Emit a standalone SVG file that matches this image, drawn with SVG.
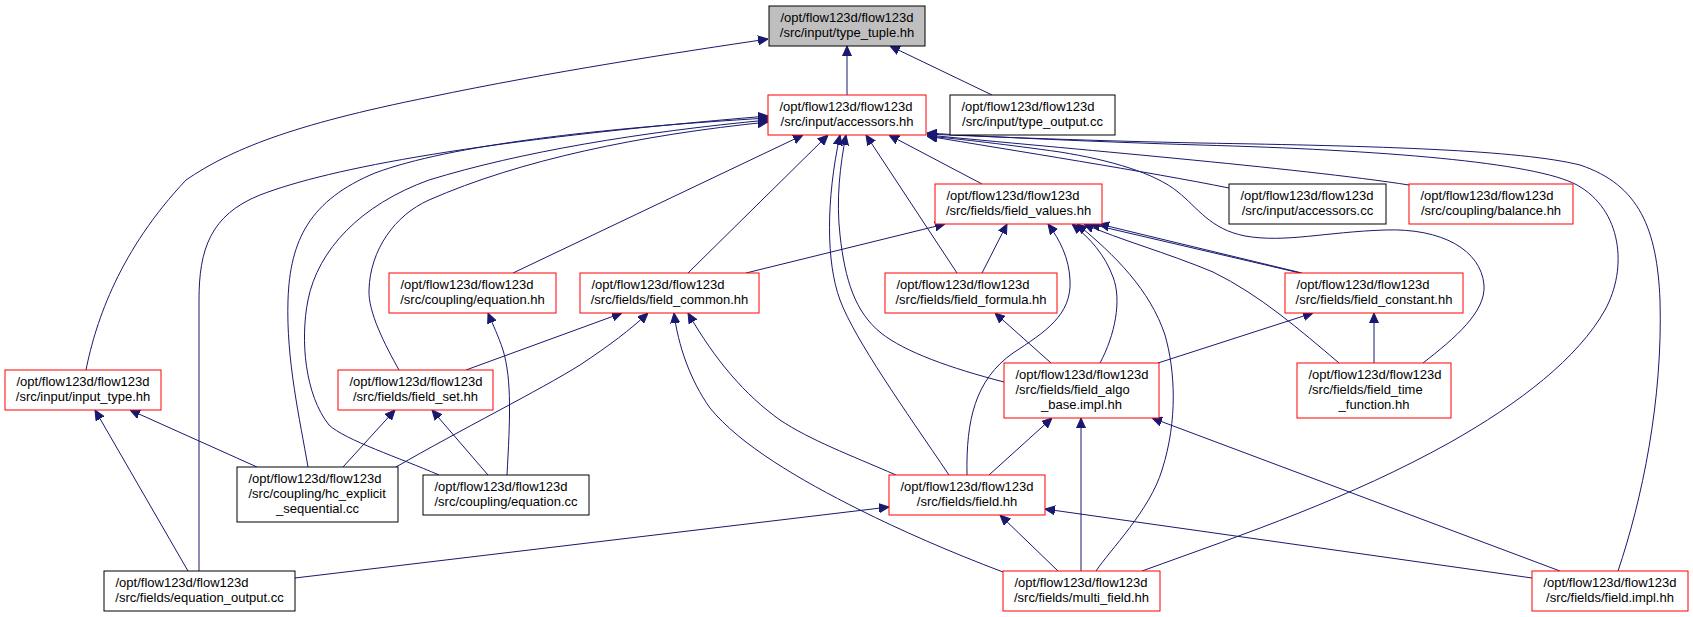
<svg xmlns="http://www.w3.org/2000/svg" width="1693" height="617" viewBox="0 0 1693 617">
<style>
.n rect{fill:#fff;stroke:#ff0000;stroke-width:1}
.b rect{stroke:#000}
.g rect{fill:#bfbfbf;stroke:#000}
text{font-family:"Liberation Sans",Arial,Helvetica,sans-serif;font-size:13px;fill:#000}
.m{text-anchor:middle}
#edges path{fill:none;stroke:#191970;stroke-width:1;marker-end:url(#ah)}
</style>
<defs>
<marker id="ah" viewBox="0 0 10 10" refX="10" refY="5" markerWidth="10" markerHeight="10" orient="auto" markerUnits="userSpaceOnUse">
<path d="M0,0.5 L10,5 L0,9.5 z" fill="#191970" stroke="#191970" stroke-width="1"/>
</marker>
</defs>
<rect width="1693" height="617" fill="#fff"/>
<g id="edges">
<path d="M86,370 C96,320 120,250 186,180 C230,150 290,125 430,97 C550,72 680,52 768,39"/>
<path d="M847,95 L847,46"/>
<path d="M992,95 L890,46"/>
<path d="M199,571 L199,300 C199,250 210,215 260,195 C330,168 480,140 768,116"/>
<path d="M308,467 C300,420 286,360 288,300 C290,240 310,200 375,173 C450,145 600,128 768,118"/>
<path d="M439,475 C400,458 345,440 329,425 C305,395 300,340 308,300 C318,250 360,205 429,180 C520,152 640,132 768,120"/>
<path d="M399,370 C385,345 368,312 369,290 C370,250 395,215 429,200 C520,160 640,135 768,122"/>
<path d="M513,273 L803,135"/>
<path d="M688,273 L828,135"/>
<path d="M949,475 C905,410 855,340 840,300 C826,262 826,200 840,135"/>
<path d="M1004,382 C950,368 905,352 881,333 C855,312 845,280 840,235 C836,200 840,165 846,135"/>
<path d="M957,273 L866,135"/>
<path d="M982,184 L889,135"/>
<path d="M1229,188 C1150,172 1010,150 927,136"/>
<path d="M1409,185 C1300,168 1060,148 927,135"/>
<path d="M1423,363 C1455,338 1486,312 1484,285 C1481,250 1442,228 1385,230 C1325,232 1285,243 1245,236 C1210,229 1198,208 1178,192 C1155,173 1110,160 1060,152 C1010,145 960,139 927,136"/>
<path d="M1142,571 C1250,532 1350,498 1449,443 C1520,403 1578,358 1605,310 C1628,268 1622,210 1577,185 C1535,162 1380,150 1200,145 C1100,142 990,137 927,133"/>
<path d="M1618,571 C1642,500 1663,400 1660,300 C1657,230 1640,185 1580,165 C1520,150 1380,146 1200,143 C1100,141 990,137 927,134"/>
<path d="M746,273 L945,224"/>
<path d="M982,273 L1007,224"/>
<path d="M967,475 C966,420 975,380 1013,353 C1045,332 1072,315 1070,280 C1069,258 1060,240 1048,224"/>
<path d="M1100,363 C1115,335 1122,300 1113,277 C1105,255 1090,238 1072,224"/>
<path d="M1096,571 C1110,550 1150,510 1162,470 C1178,420 1175,370 1165,335 C1150,290 1115,255 1077,224"/>
<path d="M1339,363 C1300,330 1260,295 1213,272 C1165,252 1120,240 1084,224"/>
<path d="M1300,273 L1090,224"/>
<path d="M1302,273 L1099,224"/>
<path d="M466,370 L622,313"/>
<path d="M396,467 C460,430 540,390 580,365 C610,345 630,330 648,313"/>
<path d="M1003,572 C950,552 900,530 860,510 C800,480 740,445 710,408 C690,380 678,345 674,313"/>
<path d="M896,475 C850,455 810,440 780,420 C745,395 715,360 688,313"/>
<path d="M507,475 C510,420 512,380 503,350 C498,335 493,325 488,313"/>
<path d="M343,467 L395,410"/>
<path d="M488,475 L432,410"/>
<path d="M188,571 L95,410"/>
<path d="M257,467 L130,410"/>
<path d="M1051,363 L995,313"/>
<path d="M1158,363 L1313,313"/>
<path d="M1374,363 L1374,313"/>
<path d="M989,475 L1052,418"/>
<path d="M1081,571 L1081,418"/>
<path d="M1560,571 L1152,418"/>
<path d="M295,578 L889,507"/>
<path d="M1058,571 L1000,515"/>
<path d="M1532,578 L1045,509"/>
</g>
<g id="node-type_tuple" class="n g"><rect x="769" y="6" width="156" height="40"/><text x="780.5" y="21.5">/opt/flow123d/flow123d</text><text class="m" x="847" y="36.5">/src/input/type_tuple.hh</text></g>
<g id="node-accessors_hh" class="n"><rect x="768" y="95" width="158" height="40"/><text x="779.5" y="110.5">/opt/flow123d/flow123d</text><text class="m" x="847" y="125.5">/src/input/accessors.hh</text></g>
<g id="node-type_output" class="n b"><rect x="950" y="95" width="165" height="40"/><text x="961.5" y="110.5">/opt/flow123d/flow123d</text><text class="m" x="1032.5" y="125.5">/src/input/type_output.cc</text></g>
<g id="node-field_values" class="n"><rect x="935" y="184" width="167" height="40"/><text x="946.5" y="199.5">/opt/flow123d/flow123d</text><text class="m" x="1018.5" y="214.5">/src/fields/field_values.hh</text></g>
<g id="node-accessors_cc" class="n b"><rect x="1229" y="184" width="157" height="40"/><text x="1240.5" y="199.5">/opt/flow123d/flow123d</text><text class="m" x="1307.5" y="214.5">/src/input/accessors.cc</text></g>
<g id="node-balance" class="n"><rect x="1409" y="184" width="164" height="40"/><text x="1420.5" y="199.5">/opt/flow123d/flow123d</text><text class="m" x="1491" y="214.5">/src/coupling/balance.hh</text></g>
<g id="node-equation_hh" class="n"><rect x="389" y="273" width="167" height="40"/><text x="400.5" y="288.5">/opt/flow123d/flow123d</text><text class="m" x="472.5" y="303.5">/src/coupling/equation.hh</text></g>
<g id="node-field_common" class="n"><rect x="580" y="273" width="179" height="40"/><text x="591.5" y="288.5">/opt/flow123d/flow123d</text><text class="m" x="669.5" y="303.5">/src/fields/field_common.hh</text></g>
<g id="node-field_formula" class="n"><rect x="885" y="273" width="172" height="40"/><text x="896.5" y="288.5">/opt/flow123d/flow123d</text><text class="m" x="971" y="303.5">/src/fields/field_formula.hh</text></g>
<g id="node-field_constant" class="n"><rect x="1285" y="273" width="178" height="40"/><text x="1296.5" y="288.5">/opt/flow123d/flow123d</text><text class="m" x="1374" y="303.5">/src/fields/field_constant.hh</text></g>
<g id="node-input_type" class="n"><rect x="5" y="370" width="156" height="40"/><text x="16.5" y="385.5">/opt/flow123d/flow123d</text><text class="m" x="83" y="400.5">/src/input/input_type.hh</text></g>
<g id="node-field_set" class="n"><rect x="338" y="370" width="155" height="40"/><text x="349.5" y="385.5">/opt/flow123d/flow123d</text><text class="m" x="415.5" y="400.5">/src/fields/field_set.hh</text></g>
<g id="node-field_algo_base" class="n"><rect x="1004" y="363" width="155" height="55"/><text x="1015.5" y="378.5">/opt/flow123d/flow123d</text><text x="1015.5" y="393.5">/src/fields/field_algo</text><text class="m" x="1081.5" y="408.5">_base.impl.hh</text></g>
<g id="node-field_time_function" class="n"><rect x="1297" y="363" width="154" height="55"/><text x="1308.5" y="378.5">/opt/flow123d/flow123d</text><text x="1308.5" y="393.5">/src/fields/field_time</text><text class="m" x="1374" y="408.5">_function.hh</text></g>
<g id="node-hc_explicit" class="n b"><rect x="237" y="467" width="161" height="55"/><text x="248.5" y="482.5">/opt/flow123d/flow123d</text><text x="248.5" y="497.5">/src/coupling/hc_explicit</text><text class="m" x="317.5" y="512.5">_sequential.cc</text></g>
<g id="node-equation_cc" class="n b"><rect x="423" y="475" width="166" height="40"/><text x="434.5" y="490.5">/opt/flow123d/flow123d</text><text class="m" x="506" y="505.5">/src/coupling/equation.cc</text></g>
<g id="node-field_hh" class="n"><rect x="889" y="475" width="156" height="40"/><text x="900.5" y="490.5">/opt/flow123d/flow123d</text><text class="m" x="967" y="505.5">/src/fields/field.hh</text></g>
<g id="node-equation_output" class="n b"><rect x="104" y="571" width="191" height="40"/><text x="115.5" y="586.5">/opt/flow123d/flow123d</text><text class="m" x="199.5" y="601.5">/src/fields/equation_output.cc</text></g>
<g id="node-multi_field" class="n"><rect x="1003" y="571" width="157" height="40"/><text x="1014.5" y="586.5">/opt/flow123d/flow123d</text><text class="m" x="1081.5" y="601.5">/src/fields/multi_field.hh</text></g>
<g id="node-field_impl" class="n"><rect x="1532" y="571" width="156" height="40"/><text x="1543.5" y="586.5">/opt/flow123d/flow123d</text><text class="m" x="1610" y="601.5">/src/fields/field.impl.hh</text></g>
</svg>
